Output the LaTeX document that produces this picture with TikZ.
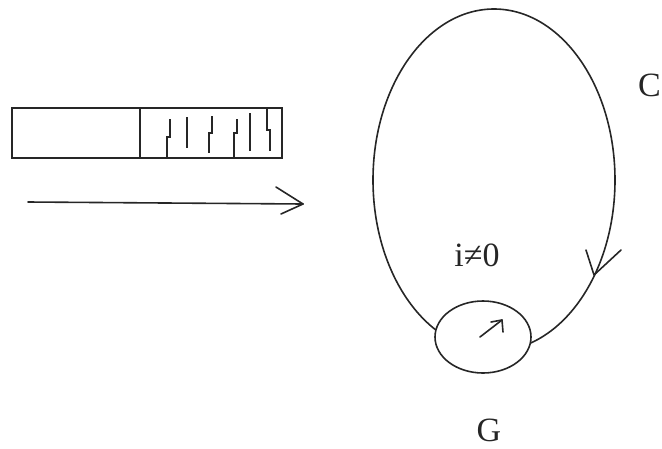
\documentclass[tikz,border=0pt]{standalone}
\usepackage{fontspec}
\setmainfont{Liberation Serif}
\usetikzlibrary{shapes.geometric}
\begin{document}
\begin{tikzpicture}[x=1pt,y=-1pt,
  ln/.style={draw=black!85,line width=1.6pt,line cap=round,line join=round},
  thick ln/.style={draw=black!85,line width=1.9pt},
  lbl/.style={font=\fontsize{34}{40}\selectfont,inner sep=0pt,text=black!85}]
\useasboundingbox (0,0) rectangle (662,448);
% bar with hatching
\draw[thick ln] (12,108) rectangle (282,158);
\draw[thick ln] (140,108) -- (140,158);
\draw[thick ln] (167,158) -- (167,137) -- (170,137) -- (170,119);
\draw[thick ln] (187,117) -- (187,148);
\draw[thick ln] (212,116) -- (212,133) -- (209,133) -- (209,153);
\draw[thick ln] (237,119) -- (237,133) -- (234,133) -- (234,158);
\draw[thick ln] (250,113) -- (250,151);
\draw[thick ln] (267,108) -- (267,130) -- (270,130) -- (270,151);
% horizontal arrow
\coordinate (a0) at (28,202);
\coordinate (a1) at (303,204);
\draw[ln] (a0) -- (a1);
\draw[ln] (276,187) -- (a1) -- (281,214);
% circuit loop C
\draw[ln] (494,180) ellipse [x radius=121, y radius=171];
\coordinate (tip) at (594,275);
\draw[ln] (586,250) -- (tip) -- (621,250);
% galvanometer G
\node[ellipse, draw=black!85, line width=1.6pt, fill=white, minimum width=96pt, minimum height=72pt, inner sep=0pt] (g) at (483,337) {};
\coordinate (n0) at (480,337);
\coordinate (n1) at (502,320);
\draw[ln] (n0) -- (n1);
\draw[ln] (491,322) -- (n1) -- (503,332);
% labels
\node[lbl] (i) at (477,255) {i≠0};
\node[lbl,anchor=west] (c) at (638,85) {C};
\node[lbl] (gl) at (489,430) {G};
\end{tikzpicture}
\end{document}
